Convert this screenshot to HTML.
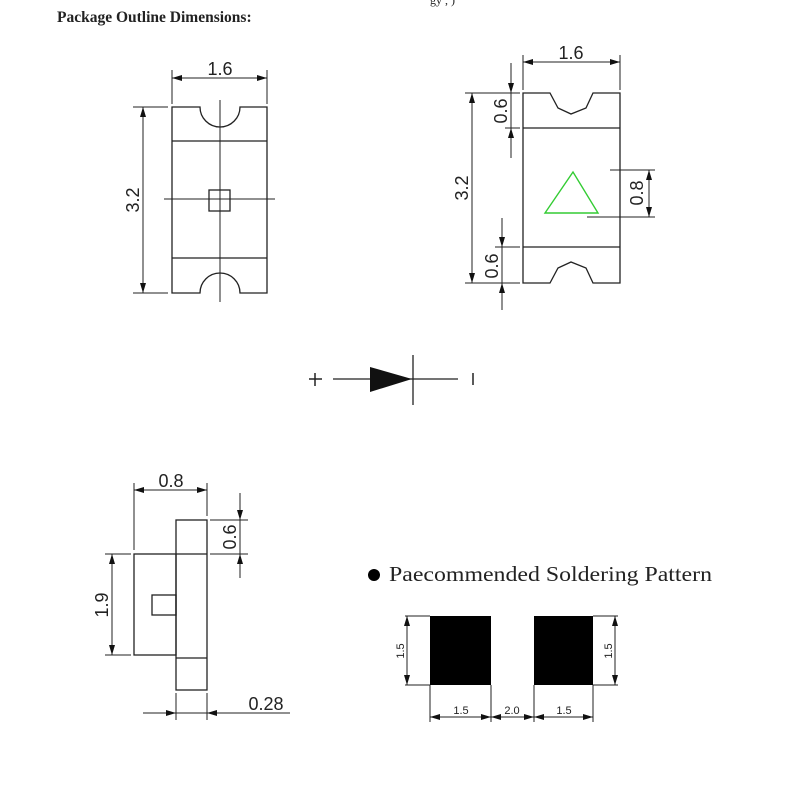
<!DOCTYPE html>
<html><head><meta charset="utf-8"><style>
html,body{margin:0;padding:0;background:#fff;}
svg{display:block;}
text{font-family:"Liberation Sans",sans-serif;fill:#222;}
</style></head><body>
<svg width="800" height="800" viewBox="0 0 800 800" xmlns="http://www.w3.org/2000/svg">
<defs>
<marker id="a" viewBox="0 0 10 6" refX="10" refY="3" markerWidth="10" markerHeight="6" markerUnits="userSpaceOnUse" orient="auto-start-reverse"><path d="M0,0L10,3L0,6z" fill="#111"/></marker>
</defs>
<text x="57" y="22" style="font-family:'Liberation Serif',serif;font-weight:bold;font-size:15.5px" fill="#111">Package Outline Dimensions:</text>
<text x="430" y="4" style="font-family:'Liberation Serif',serif;font-size:12px">gy ,   )</text>

<g stroke="#222" stroke-width="1.3" fill="none">
<!-- Drawing 1 -->
<path d="M172,107H200A20,20 0 0 0 240,107H267V293H240A20,20 0 0 0 200,293H172Z"/>
<line x1="172" y1="141" x2="267" y2="141"/>
<line x1="172" y1="258" x2="267" y2="258"/>
<line x1="220" y1="100" x2="220" y2="302" stroke-width="1"/>
<line x1="164" y1="199" x2="275" y2="199" stroke-width="1"/>
<rect x="209" y="190" width="21" height="21"/>
<line x1="172" y1="70" x2="172" y2="104" stroke-width="1"/>
<line x1="267" y1="70" x2="267" y2="104" stroke-width="1"/>
<line x1="172" y1="78" x2="267" y2="78" marker-start="url(#a)" marker-end="url(#a)" stroke-width="1"/>
<line x1="133" y1="107" x2="168" y2="107" stroke-width="1"/>
<line x1="133" y1="293" x2="168" y2="293" stroke-width="1"/>
<line x1="143" y1="107" x2="143" y2="293" marker-start="url(#a)" marker-end="url(#a)" stroke-width="1"/>

<!-- Drawing 2 -->
<path d="M523,93H550L558,108L571,114L586,108L593,93H620V283H593L586,268L571,262L558,268L550,283H523Z"/>
<line x1="523" y1="128" x2="620" y2="128"/>
<line x1="523" y1="247" x2="620" y2="247"/>
<line x1="523" y1="55" x2="523" y2="90" stroke-width="1"/>
<line x1="620" y1="55" x2="620" y2="90" stroke-width="1"/>
<line x1="523" y1="62" x2="620" y2="62" marker-start="url(#a)" marker-end="url(#a)" stroke-width="1"/>
<line x1="465" y1="93" x2="520" y2="93" stroke-width="1"/>
<line x1="465" y1="283" x2="520" y2="283" stroke-width="1"/>
<line x1="472" y1="93" x2="472" y2="283" marker-start="url(#a)" marker-end="url(#a)" stroke-width="1"/>
<line x1="505" y1="128" x2="520" y2="128" stroke-width="1"/>
<line x1="511" y1="63" x2="511" y2="93" marker-end="url(#a)" stroke-width="1"/>
<line x1="511" y1="93" x2="511" y2="128" stroke-width="1"/>
<line x1="511" y1="158" x2="511" y2="128" marker-end="url(#a)" stroke-width="1"/>
<line x1="495" y1="247" x2="520" y2="247" stroke-width="1"/>
<line x1="502" y1="218" x2="502" y2="247" marker-end="url(#a)" stroke-width="1"/>
<line x1="502" y1="247" x2="502" y2="283" stroke-width="1"/>
<line x1="502" y1="310" x2="502" y2="283" marker-end="url(#a)" stroke-width="1"/>
<line x1="610" y1="170" x2="655" y2="170" stroke-width="1"/>
<line x1="587" y1="217" x2="655" y2="217" stroke-width="1"/>
<line x1="649" y1="170" x2="649" y2="217" marker-start="url(#a)" marker-end="url(#a)" stroke-width="1"/>
<path d="M573,172L545,213L598,213Z" stroke="#3c3" stroke-width="1.4"/>

<!-- Diode -->
<line x1="333" y1="379" x2="458" y2="379"/>
<line x1="413" y1="355" x2="413" y2="405"/>
<line x1="473" y1="373" x2="473" y2="385" stroke-width="1.5"/>
<line x1="309" y1="379" x2="322" y2="379" stroke-width="1.5"/>
<line x1="315" y1="373" x2="315" y2="386" stroke-width="1.5"/>

<!-- Drawing 3 -->
<rect x="134" y="554" width="42" height="101"/>
<rect x="176" y="520" width="31" height="170"/>
<line x1="176" y1="554" x2="207" y2="554"/>
<line x1="176" y1="658" x2="207" y2="658"/>
<rect x="152" y="595" width="24" height="20"/>
<line x1="134" y1="483" x2="134" y2="550" stroke-width="1"/>
<line x1="207" y1="483" x2="207" y2="516" stroke-width="1"/>
<line x1="134" y1="490" x2="207" y2="490" marker-start="url(#a)" marker-end="url(#a)" stroke-width="1"/>
<line x1="210" y1="520" x2="248" y2="520" stroke-width="1"/>
<line x1="210" y1="554" x2="248" y2="554" stroke-width="1"/>
<line x1="240" y1="493" x2="240" y2="520" marker-end="url(#a)" stroke-width="1"/>
<line x1="240" y1="520" x2="240" y2="554" stroke-width="1"/>
<line x1="240" y1="578" x2="240" y2="554" marker-end="url(#a)" stroke-width="1"/>
<line x1="105" y1="554" x2="131" y2="554" stroke-width="1"/>
<line x1="105" y1="655" x2="131" y2="655" stroke-width="1"/>
<line x1="112" y1="554" x2="112" y2="655" marker-start="url(#a)" marker-end="url(#a)" stroke-width="1"/>
<line x1="176" y1="693" x2="176" y2="720" stroke-width="1"/>
<line x1="207" y1="693" x2="207" y2="720" stroke-width="1"/>
<line x1="143" y1="713" x2="176" y2="713" marker-end="url(#a)" stroke-width="1"/>
<line x1="176" y1="713" x2="207" y2="713" stroke-width="1"/>
<line x1="290" y1="713" x2="207" y2="713" marker-end="url(#a)" stroke-width="1"/>

<!-- Soldering -->
<line x1="405" y1="616" x2="430" y2="616" stroke-width="1"/>
<line x1="405" y1="685" x2="430" y2="685" stroke-width="1"/>
<line x1="407" y1="616" x2="407" y2="685" marker-start="url(#a)" marker-end="url(#a)" stroke-width="1"/>
<line x1="593" y1="616" x2="618" y2="616" stroke-width="1"/>
<line x1="593" y1="685" x2="618" y2="685" stroke-width="1"/>
<line x1="615" y1="616" x2="615" y2="685" marker-start="url(#a)" marker-end="url(#a)" stroke-width="1"/>
<line x1="430" y1="685" x2="430" y2="722" stroke-width="1"/>
<line x1="491" y1="685" x2="491" y2="722" stroke-width="1"/>
<line x1="534" y1="685" x2="534" y2="722" stroke-width="1"/>
<line x1="593" y1="685" x2="593" y2="722" stroke-width="1"/>
<line x1="430" y1="717" x2="491" y2="717" marker-start="url(#a)" marker-end="url(#a)" stroke-width="1"/>
<line x1="491" y1="717" x2="534" y2="717" marker-start="url(#a)" marker-end="url(#a)" stroke-width="1"/>
<line x1="534" y1="717" x2="593" y2="717" marker-start="url(#a)" marker-end="url(#a)" stroke-width="1"/>
</g>
<path d="M370,367L370,392L412,379Z" fill="#111"/>
<rect x="430" y="616" width="61" height="69" fill="#000"/>
<rect x="534" y="616" width="59" height="69" fill="#000"/>
<circle cx="374" cy="575" r="6" fill="#000"/>
<text x="389" y="581" style="font-family:'Liberation Serif',serif;font-size:21px" textLength="323" lengthAdjust="spacingAndGlyphs" fill="#223">Paecommended Soldering Pattern</text>

<g style="font-size:18px">
<text x="220" y="75" text-anchor="middle">1.6</text>
<text transform="translate(139,200) rotate(-90)" text-anchor="middle">3.2</text>
<text x="571" y="59" text-anchor="middle">1.6</text>
<text transform="translate(468,188) rotate(-90)" text-anchor="middle">3.2</text>
<text transform="translate(507,111) rotate(-90)" text-anchor="middle">0.6</text>
<text transform="translate(498,266) rotate(-90)" text-anchor="middle">0.6</text>
<text transform="translate(643,193) rotate(-90)" text-anchor="middle">0.8</text>
<text x="171" y="487" text-anchor="middle">0.8</text>
<text transform="translate(236,537) rotate(-90)" text-anchor="middle">0.6</text>
<text transform="translate(108,605) rotate(-90)" text-anchor="middle">1.9</text>
<text x="266" y="710" text-anchor="middle">0.28</text>
</g>
<g style="font-size:11px">
<text transform="translate(404,651) rotate(-90)" text-anchor="middle">1.5</text>
<text transform="translate(612,651) rotate(-90)" text-anchor="middle">1.5</text>
<text x="461" y="714" text-anchor="middle">1.5</text>
<text x="512" y="714" text-anchor="middle">2.0</text>
<text x="564" y="714" text-anchor="middle">1.5</text>
</g>
</svg>
</body></html>
